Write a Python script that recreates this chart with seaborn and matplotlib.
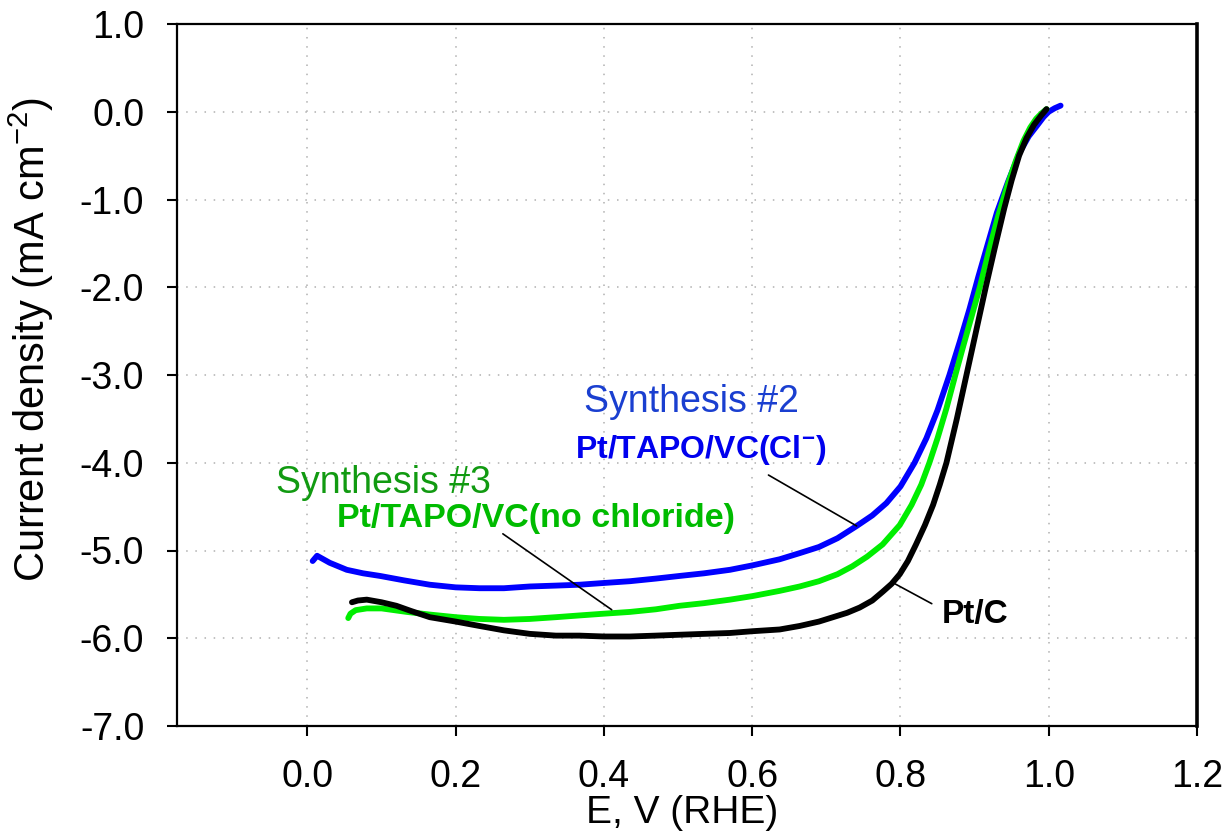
import matplotlib
matplotlib.use("Agg")
import matplotlib.pyplot as plt
import pandas as pd
import seaborn as sns

# Polarisation curves: potential E (V vs RHE) and current density (mA cm^-2)
e_syn2 = [0.007, 0.013, 0.030, 0.053, 0.075, 0.098, 0.130, 0.165, 0.200, 0.232,
          0.265, 0.300, 0.335, 0.367, 0.400, 0.435, 0.470, 0.502, 0.535, 0.570,
          0.600, 0.637, 0.664, 0.690, 0.715, 0.741, 0.762, 0.781, 0.800, 0.819,
          0.835, 0.850, 0.866, 0.880, 0.893, 0.905, 0.918, 0.930, 0.945, 0.961,
          0.973, 0.984, 0.993, 1.000, 1.008, 1.016]
j_syn2 = [-5.12, -5.06, -5.14, -5.22, -5.26, -5.29, -5.34, -5.39, -5.42, -5.43,
          -5.43, -5.41, -5.40, -5.39, -5.37, -5.35, -5.32, -5.29, -5.26, -5.22,
          -5.17, -5.10, -5.03, -4.96, -4.86, -4.72, -4.60, -4.46, -4.27, -4.00,
          -3.72, -3.40, -3.00, -2.62, -2.25, -1.88, -1.50, -1.15, -0.80, -0.46,
          -0.28, -0.16, -0.06, 0.00, 0.04, 0.07]

e_syn3 = [0.055, 0.058, 0.065, 0.080, 0.100, 0.134, 0.165, 0.200, 0.232, 0.265,
          0.300, 0.335, 0.367, 0.400, 0.435, 0.470, 0.502, 0.535, 0.570, 0.600,
          0.637, 0.664, 0.690, 0.715, 0.735, 0.755, 0.776, 0.799, 0.815, 0.828,
          0.839, 0.850, 0.862, 0.874, 0.885, 0.896, 0.907, 0.920, 0.932, 0.945,
          0.956, 0.966, 0.975, 0.983, 0.990, 0.997]
j_syn3 = [-5.77, -5.72, -5.68, -5.66, -5.66, -5.70, -5.73, -5.76, -5.78, -5.79,
          -5.78, -5.76, -5.74, -5.72, -5.70, -5.67, -5.63, -5.60, -5.56, -5.52,
          -5.46, -5.41, -5.35, -5.27, -5.18, -5.07, -4.93, -4.71, -4.48, -4.25,
          -4.00, -3.72, -3.38, -3.00, -2.66, -2.33, -2.00, -1.56, -1.18, -0.82,
          -0.55, -0.33, -0.18, -0.08, -0.02, 0.03]

e_ptc = [0.060, 0.068, 0.080, 0.100, 0.120, 0.140, 0.165, 0.200, 0.232, 0.265,
         0.300, 0.335, 0.367, 0.400, 0.435, 0.470, 0.502, 0.535, 0.570, 0.600,
         0.637, 0.664, 0.690, 0.709, 0.728, 0.745, 0.762, 0.776, 0.788, 0.799,
         0.810, 0.821, 0.833, 0.844, 0.853, 0.862, 0.876, 0.889, 0.902, 0.915,
         0.927, 0.940, 0.950, 0.960, 0.970, 0.980, 0.990, 0.997]
j_ptc = [-5.59, -5.57, -5.56, -5.59, -5.63, -5.69, -5.76, -5.81, -5.86, -5.91,
         -5.95, -5.97, -5.97, -5.98, -5.98, -5.97, -5.96, -5.95, -5.94, -5.92,
         -5.90, -5.86, -5.81, -5.76, -5.71, -5.65, -5.57, -5.47, -5.38, -5.27,
         -5.12, -4.93, -4.71, -4.48, -4.25, -4.00, -3.50, -3.00, -2.50, -2.00,
         -1.56, -1.10, -0.78, -0.50, -0.30, -0.15, -0.04, 0.03]

samples = ["Synthesis #2", "Synthesis #3", "Pt/C"]
x_ticks = [0.0, 0.2, 0.4, 0.6, 0.8, 1.0, 1.2]
y_ticks = [1.0, 0.0, -1.0, -2.0, -3.0, -4.0, -5.0, -6.0, -7.0]

frames = []
for name, e, j in zip(samples, [e_syn2, e_syn3, e_ptc], [j_syn2, j_syn3, j_ptc]):
    frames.append(pd.DataFrame({"E": e, "J": j, "sample": name}))
df = pd.concat(frames, ignore_index=True)

sns.set_theme(style="white")
plt.rcParams["font.family"] = ["Liberation Sans", "DejaVu Sans"]
plt.rcParams["mathtext.fontset"] = "custom"
plt.rcParams["mathtext.rm"] = "Liberation Sans"
plt.rcParams["mathtext.bf"] = "Liberation Sans:bold"
plt.rcParams["axes.unicode_minus"] = False
plt.rcParams["text.color"] = "black"
plt.rcParams["axes.labelcolor"] = "black"

fig = plt.figure(figsize=(12.28, 8.36), dpi=100)
ax = fig.add_axes([177 / 1228, 1 - 726 / 836, 1020 / 1228, 702 / 836])

palette = {"Synthesis #2": "#0000ff", "Synthesis #3": "#00ee00", "Pt/C": "#000000"}
sns.lineplot(data=df, x="E", y="J", hue="sample", hue_order=samples,
             palette=palette, sort=False, estimator=None, linewidth=4.2,
             legend=False, ax=ax, zorder=3)

ax.set_xlim(-0.176, 1.2)
ax.set_ylim(-7.0, 1.0)
ax.set_xticks(x_ticks)
ax.set_yticks(y_ticks)
ax.set_xticklabels([f"{v:.1f}" for v in x_ticks])
ax.set_yticklabels([f"{v:.1f}" for v in y_ticks])
ax.tick_params(axis="both", which="major", direction="out", length=7.5,
               width=1.5, pad=16, labelsize=27, colors="black",
               bottom=True, left=True, top=False, right=False)
ax.grid(True, color="#b0b0b0", linestyle=(0, (1, 5)), linewidth=1.1)
ax.set_axisbelow(True)
for sp in ax.spines.values():
    sp.set_color("black")
    sp.set_linewidth(1.6)
ax.spines["right"].set_linewidth(2.6)

ax.set_xlabel("E, V (RHE)", fontsize=28, color="black")
ax.xaxis.set_label_coords(0.495, -0.098)
ax.set_ylabel(r"Current density (mA cm$^{-2}$)", fontsize=30, color="black")
ax.yaxis.set_label_coords(-0.119, 0.55)

# Curve labels
ax.text(0.5176, -3.424, "Synthesis #2", color="#1a3fd0", fontsize=27,
        ha="center", va="baseline")
ax.text(0.531, -3.95, r"Pt/TAPO/VC(Cl$^{\mathbf{-}}$)", color="#0000ee",
        fontsize=23, fontweight="bold", ha="center", va="baseline")
ax.text(0.1029, -4.344, "Synthesis #3", color="#119a11", fontsize=27,
        ha="center", va="baseline")
ax.text(0.3087, -4.73, "Pt/TAPO/VC(no chloride)", color="#00bb00",
        fontsize=24.5, fontweight="bold", ha="center", va="baseline")
ax.text(0.900, -5.83, "Pt/C", color="black", fontsize=24, fontweight="bold",
        ha="center", va="baseline")

# Leader lines from labels to curves
ax.plot([0.6219, 0.7408], [-4.14, -4.72], color="black", linewidth=1.2, zorder=4)
ax.plot([0.2636, 0.4104], [-4.81, -5.675], color="black", linewidth=1.2, zorder=4)
ax.plot([0.7922, 0.8422], [-5.378, -5.606], color="black", linewidth=1.2, zorder=4)

fig.savefig("out.png", dpi=100, facecolor="white")
